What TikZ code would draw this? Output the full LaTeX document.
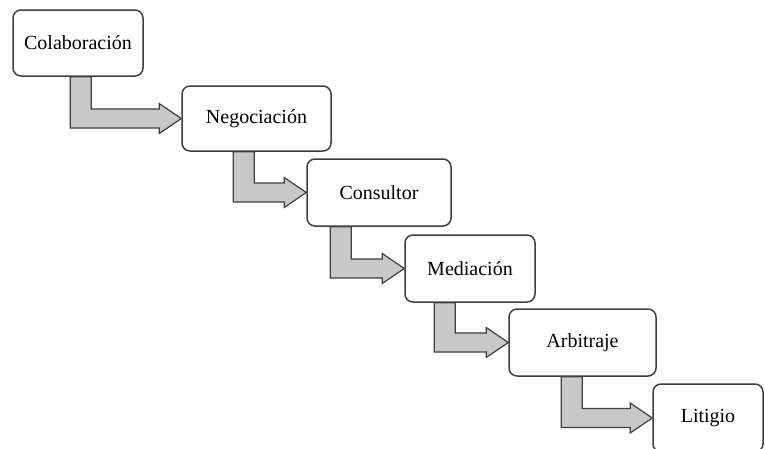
\documentclass[tikz,border=0pt]{standalone}
\usepackage{fontspec}
\setmainfont{Liberation Serif}
\usetikzlibrary{calc}
\definecolor{edge}{HTML}{404040}
\definecolor{arrowfill}{HTML}{C8C8C8}
\tikzset{
  stagebox/.style={draw=edge, line width=1.5pt, rounded corners=8pt, fill=white,
    font=\fontsize{20}{24}\selectfont, inner sep=0pt, anchor=center},
  stairarrow/.style={draw=edge, line width=1.2pt, fill=arrowfill, line join=miter}
}
\newcommand{\stairarrowdraw}[3]{%
  \path[stairarrow] let \p1=(#1.south west), \p2=(#2.west) in
    (\x1+#3pt, \y1) -- (\x1+#3pt, \y2-9.5pt) -- (\x2-22pt, \y2-9.5pt)
    -- (\x2-22pt, \y2-15pt) -- (\x2, \y2) -- (\x2-22pt, \y2+15pt)
    -- (\x2-22pt, \y2+9.5pt) -- (\x1+#3pt+21pt, \y2+9.5pt)
    -- (\x1+#3pt+21pt, \y1) -- cycle;}
\begin{document}
\begin{tikzpicture}[x=1pt, y=-1pt]
\clip (0,0) rectangle (765,448);
\fill[white] (0,0) rectangle (765,448);
\node[stagebox, minimum width=130pt, minimum height=66pt] (b1) at (78,43) {Colaboración};
\node[stagebox, minimum width=149pt, minimum height=65pt] (b2) at (256.5,118.5) {Negociación};
\node[stagebox, minimum width=144pt, minimum height=67pt] (b3) at (379,192.5) {Consultor};
\node[stagebox, minimum width=130pt, minimum height=67pt] (b4) at (470,268.5) {Mediación};
\node[stagebox, minimum width=147pt, minimum height=67pt] (b5) at (582.5,342.5) {Arbitraje};
\node[stagebox, minimum width=110pt, minimum height=68pt] (b6) at (708,418) {Litigio};
\stairarrowdraw{b1}{b2}{58}
\stairarrowdraw{b2}{b3}{52}
\stairarrowdraw{b3}{b4}{24}
\stairarrowdraw{b4}{b5}{30}
\stairarrowdraw{b5}{b6}{53}
\end{tikzpicture}
\end{document}
